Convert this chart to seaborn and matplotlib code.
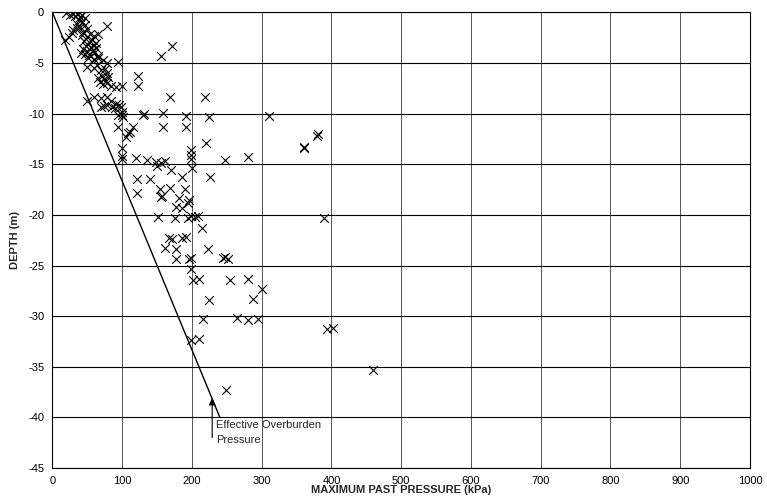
import matplotlib
matplotlib.use("Agg")
import matplotlib.pyplot as plt
import seaborn as sns
import pandas as pd

# Maximum past pressure (kPa) and depth (m) of each oedometer test
pressure = [
    20, 25, 30, 33, 36, 40, 43, 46, 38, 42, 47, 35, 30, 35, 44, 40, 50, 78, 18, 23,
    42, 49, 54, 59, 66, 28,
    45, 52, 57, 62, 48, 55, 60, 44, 50, 58, 63, 47, 53, 59, 65, 51, 59, 66, 73, 78,
    94, 41,
    49, 59, 69, 76, 64, 78, 71, 66, 74, 80, 68, 77, 73, 78, 84, 91, 99, 123, 122,
    155, 171,
    59, 69, 78, 49, 84, 91, 86, 98, 100, 69, 78, 74, 90, 95, 168, 219,
    99, 94, 101, 131, 130, 159, 192, 225, 310, 94, 116, 111, 108, 105, 159, 192,
    220, 100, 100, 100, 120, 136, 148, 155, 150, 161, 199, 199, 199, 248, 280,
    360, 361, 379, 380,
    170, 200, 121, 140, 185, 226, 154, 168, 157, 155, 121, 190, 181, 196, 177,
    186, 195,
    151, 175, 195, 199, 204, 209, 215, 167, 172, 186, 191, 161, 177, 223, 177,
    196, 199, 244, 248, 252, 390,
    199, 201, 210, 254, 280, 300, 225, 287,
    216, 264, 280, 294, 199, 210, 249, 393, 402, 460,
]
depth = [
    -0.05, -0.2, -0.1, -0.3, -0.15, -0.4, -0.2, -0.5, -0.7, -0.9, -1.2, -1.1, -1.7,
    -1.5, -1.9, -1.4, -1.6, -1.3, -2.7, -2.4, -2.2, -2.4, -2.1, -2.3, -2.1, -2.0,
    -2.8, -2.9, -2.7, -3.0, -3.3, -3.4, -3.2, -3.6, -3.8, -3.7, -3.5, -4.1, -4.2,
    -4.0, -4.3, -4.5, -4.6, -4.5, -4.7, -5.0, -4.9, -4.0,
    -5.35, -5.45, -5.7, -5.6, -5.2, -6.0, -6.3, -6.5, -6.6, -6.4, -6.9, -6.8, -7.1,
    -7.0, -7.3, -7.4, -7.3, -6.3, -7.3, -4.3, -3.3,
    -8.3, -8.4, -8.3, -8.7, -8.7, -9.0, -9.3, -9.3, -9.8, -9.3, -9.1, -9.2, -9.4,
    -9.1, -8.3, -8.3,
    -10.1, -10.1, -10.3, -10.0, -10.1, -9.9, -10.2, -10.3, -10.2, -11.3, -11.3,
    -11.8, -11.9, -12.3, -11.3, -11.3, -12.85, -13.4, -14.2, -14.5, -14.4, -14.6,
    -14.8, -14.9, -15.2, -14.7, -13.6, -14.1, -14.5, -14.6, -14.3, -13.4, -13.25,
    -12.2, -12.0,
    -15.6, -15.4, -16.4, -16.4, -16.3, -16.3, -17.4, -17.3, -18.1, -18.2, -17.85,
    -17.4, -18.3, -18.5, -19.2, -19.3, -18.8,
    -20.2, -20.3, -20.3, -20.1, -20.2, -20.1, -21.3, -22.3, -22.4, -22.3, -22.2,
    -23.3, -23.4, -23.4, -24.4, -24.4, -24.3, -24.3, -24.2, -24.4, -20.3,
    -25.3, -26.4, -26.3, -26.4, -26.3, -27.3, -28.4, -28.3,
    -30.3, -30.2, -30.4, -30.3, -32.4, -32.3, -37.3, -31.3, -31.2, -35.3,
]

# Effective overburden pressure line
overburden_pressure = [0, 240]
overburden_depth = [0, -40]

x_ticks = [0, 100, 200, 300, 400, 500, 600, 700, 800, 900, 1000]
y_ticks = [0, -5, -10, -15, -20, -25, -30, -35, -40, -45]

sns.set_style("white")
plt.rcParams["font.family"] = ["Liberation Sans", "DejaVu Sans"]
plt.rcParams["axes.unicode_minus"] = False

tests = pd.DataFrame({"pressure": pressure, "depth": depth})
line = pd.DataFrame({"pressure": overburden_pressure, "depth": overburden_depth})

fig = plt.figure(figsize=(7.67, 5.04), dpi=100)
ax = fig.add_axes([0.0684, 0.0714, 0.9094, 0.9038])

sns.lineplot(data=line, x="pressure", y="depth", color="black", linewidth=1.0,
             ax=ax, sort=False, zorder=3)
sns.scatterplot(data=tests, x="pressure", y="depth", marker="x", color="black",
                s=38, linewidth=0.8, ax=ax, zorder=4)

ax.set_xlim(0, 1000)
ax.set_ylim(-45, 0)
ax.set_xticks(x_ticks)
ax.set_yticks(y_ticks)
ax.set_xticklabels([str(v) for v in x_ticks])
ax.set_yticklabels([str(v) for v in y_ticks])
ax.tick_params(axis="both", length=0, labelsize=8, colors="black", pad=6)

ax.yaxis.grid(True, color="black", linewidth=0.8)
ax.xaxis.grid(True, color="#3a3a3a", linewidth=0.6)
ax.set_axisbelow(True)
for spine in ax.spines.values():
    spine.set_color("black")
    spine.set_linewidth(0.8)

ax.set_xlabel("MAXIMUM PAST PRESSURE (kPa)", fontsize=8, fontweight="bold",
              labelpad=-1)
ax.set_ylabel("DEPTH (m)", fontsize=8, fontweight="bold", labelpad=6)

ax.annotate("", xy=(229, -38.1), xytext=(229, -42.0),
            arrowprops=dict(arrowstyle="-|>", color="black", lw=0.8,
                            mutation_scale=10, shrinkA=0, shrinkB=0))
ax.text(235, -40.25, "Effective Overburden\nPressure", fontsize=8,
        ha="left", va="top", linespacing=1.65)

fig.savefig("out.png", dpi=100)
